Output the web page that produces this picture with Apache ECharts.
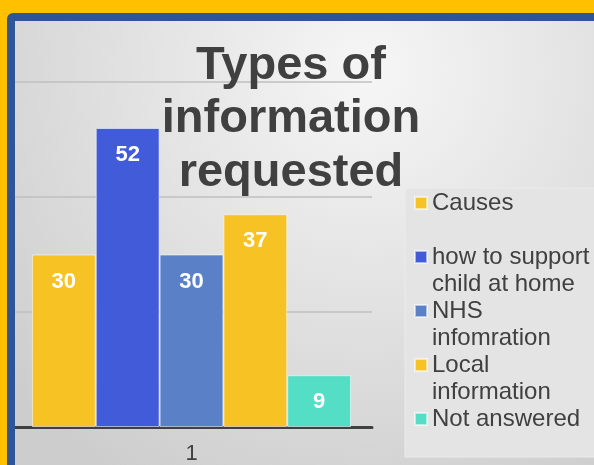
<!DOCTYPE html>
<html lang="en">
<head>
  <meta charset="UTF-8">
  <title>Types of information requested</title>
  <style>
    html, body { margin: 0; padding: 0; overflow: hidden; }
    #chart { width: 594px; height: 465px; }
  </style>
</head>
<body>
  <div id="chart"></div>
  <script src="https://cdn.jsdelivr.net/npm/echarts@6/dist/echarts.min.js"></script>
  <script>
    // chart data
    var categories = ['1'];
    var seriesNames = ['Causes', 'how to support child at home', 'NHS infomration', 'Local information', 'Not answered'];
    var legendLines = ['Causes', 'how to support\nchild at home', 'NHS\ninfomration', 'Local\ninformation', 'Not answered'];
    var values = [30, 52, 30, 37, 9];
    var barColors = ['#F7C223', '#425CD9', '#5A80C8', '#F7C223', '#54DEC6'];

    var myChart = echarts.init(document.getElementById('chart'));

    var series = seriesNames.map(function (name, i) {
      return {
        name: name,
        type: 'bar',
        barGap: '0%',
        barCategoryGap: '11.6%',
        data: [values[i]],
        itemStyle: { color: barColors[i], borderColor: 'rgba(255,255,255,0.55)', borderWidth: 1 },
        label: {
          show: true,
          position: 'insideTop',
          distance: 16,
          color: '#fff',
          fontWeight: 'bold',
          fontSize: 22,
          fontFamily: 'Liberation Sans'
        }
      };
    });

    var option = {
      backgroundColor: '#FFC000',
      animation: false,
      graphic: [
        { type: 'rect', z: -20, silent: true, shape: { x: 7, y: 13, width: 640, height: 500, r: 6 }, style: { fill: '#2E5597' } },
        {
          type: 'rect', z: -19, silent: true, shape: { x: 15, y: 21, width: 640, height: 500 },
          style: {
            fill: new echarts.graphic.RadialGradient(0.55, 0.1, 0.95, [
              { offset: 0, color: '#f6f6f6' },
              { offset: 1, color: '#cdcdcd' }
            ])
          }
        },
        { type: 'rect', z: -18, silent: true, shape: { x: 405, y: 188, width: 200, height: 269 }, style: { fill: '#e4e4e4', stroke: '#ebebeb', lineWidth: 1 } },
        // left frame band drawn over the axis end
        { type: 'rect', z: 100, silent: true, shape: { x: 7, y: 21, width: 8, height: 460 }, style: { fill: '#2E5597' } }
      ],
      title: {
        text: 'Types of\ninformation\nrequested',
        left: 291,
        top: 39,
        padding: 0,
        textAlign: 'center',
        textStyle: {
          fontFamily: 'Liberation Sans',
          fontSize: 47,
          fontWeight: 'bold',
          lineHeight: 53.5,
          color: '#404040'
        }
      },
      legend: {
        orient: 'vertical',
        left: 414,
        top: 162.5,
        padding: 0,
        itemGap: -27,
        itemWidth: 12,
        itemHeight: 12,
        icon: 'rect',
        data: seriesNames,
        formatter: function (name) {
          var txt = legendLines[seriesNames.indexOf(name)];
          // pad so the marker lines up with the first text line
          return '\n' + txt + (txt.indexOf('\n') < 0 ? '\n' : '');
        },
        textStyle: {
          fontFamily: 'Liberation Sans',
          fontSize: 24,
          lineHeight: 27,
          color: '#404040'
        }
      },
      grid: { left: 11, right: 222, top: 82, bottom: 35 },
      xAxis: {
        type: 'category',
        data: categories,
        axisLine: { lineStyle: { color: '#404040', width: 3 } },
        axisTick: { show: false },
        axisLabel: { margin: 16, fontSize: 22, color: '#404040', fontFamily: 'Liberation Sans' }
      },
      yAxis: {
        type: 'value',
        min: 0,
        max: 60,
        interval: 20,
        axisLabel: { show: false },
        axisLine: { show: false },
        axisTick: { show: false },
        splitLine: { lineStyle: { color: '#bfbfbf', width: 1.5 } }
      },
      series: series
    };

    myChart.setOption(option);
  </script>
</body>
</html>
